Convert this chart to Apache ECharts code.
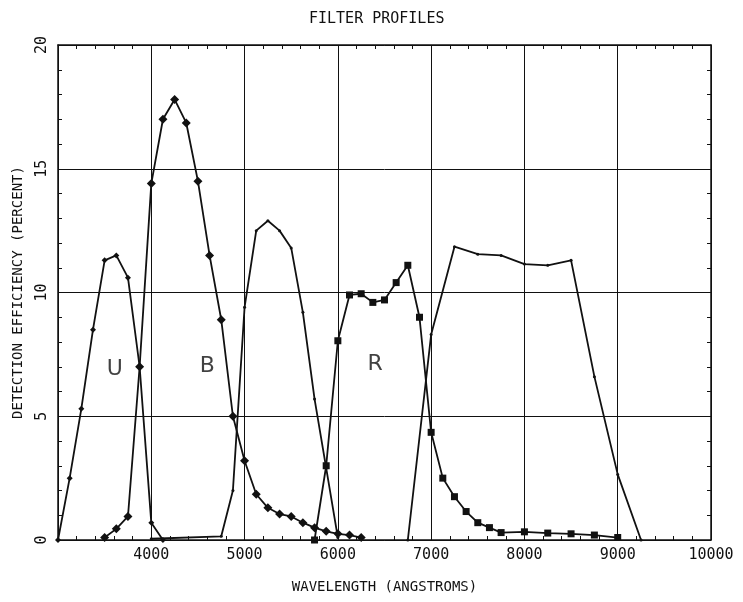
<!DOCTYPE html>
<html><head><meta charset="utf-8">
<script src="https://cdn.jsdelivr.net/npm/echarts@6/dist/echarts.min.js"></script>
<style>html,body{margin:0;padding:0;background:#fff}#c{width:743px;height:602px}</style>
</head><body><div id="c"></div>
<script>
// ---- data (wavelength in Angstroms, efficiency in percent) ----
const uWave = [3000,3125,3250,3375,3500,3625,3750,3875,4000,4125];
const uEff  = [0,2.5,5.3,8.5,11.3,11.5,10.6,7.0,0.7,0];

const bWave = [3500,3625,3750,3875,4000,4125,4250,4375,4500,4625,4750,4875,5000,5125,5250,5375,5500,5625,5750,5875,6000,6125,6250];
const bEff  = [0.1,0.45,0.95,7.0,14.4,17.0,17.8,16.85,14.5,11.5,8.9,5.0,3.2,1.85,1.3,1.05,0.95,0.7,0.5,0.35,0.25,0.2,0.1];

const vWave = [4000,4750,4875,5000,5125,5250,5375,5500,5625,5750,5875,6000];
const vEff  = [0.05,0.15,2.0,9.4,12.5,12.9,12.5,11.8,9.2,5.7,2.9,0.1];

const rWave = [5750,5875,6000,6125,6250,6375,6500,6625,6750,6875,7000,7125,7250,7375,7500,7625,7750,8000,8250,8500,8750,9000];
const rEff  = [0,3.0,8.05,9.9,9.95,9.6,9.7,10.4,11.1,9.0,4.35,2.5,1.75,1.15,0.7,0.5,0.3,0.33,0.28,0.25,0.2,0.1];

const iWave = [6750,7000,7250,7500,7750,8000,8250,8500,8750,9000,9250];
const iEff  = [0,8.3,11.85,11.55,11.5,11.15,11.1,11.3,6.6,2.65,0];

const xTickLabels = ['4000','5000','6000','7000','8000','9000','10000'];
const yTickLabels = ['0','5','10','15','20'];

const annoText = ['U','B','R'];
const annoX = [3610,4600,6400];
const annoY = [6.9,7.0,7.1];

// ---- chart ----
const INK = '#111';
const FONT = 'DejaVu Sans Mono';
const zip = (xs, ys) => xs.map((x, i) => [x, ys[i]]);

function lineSeries(name, xs, ys, symbol, size) {
  return {
    name, type: 'line', data: zip(xs, ys),
    symbol, symbolSize: size, showSymbol: true,
    lineStyle: { color: INK, width: 1.8 },
    itemStyle: { color: INK },
    z: 5
  };
}

const xCommon = {
  type: 'value', min: 3000, max: 10000, interval: 1000,
  axisLine: { show: true, onZero: false, lineStyle: { color: INK, width: 1.5 } },
  axisTick: { show: true, inside: true, length: 5, lineStyle: { color: INK } },
  minorTick: { show: true, splitNumber: 5, length: 4, lineStyle: { color: INK } }
};
const yCommon = {
  type: 'value', min: 0, max: 20, interval: 5,
  axisLine: { show: true, onZero: false, lineStyle: { color: INK, width: 1.5 } },
  axisTick: { show: true, inside: true, length: 5, lineStyle: { color: INK } },
  minorTick: { show: true, splitNumber: 5, length: 4, lineStyle: { color: INK } }
};

const chart = echarts.init(document.getElementById('c'), null, { renderer: 'canvas' });
chart.setOption({
  animation: false,
  backgroundColor: '#fff',
  title: {
    text: 'FILTER PROFILES', left: 304, top: 7,
    textStyle: { fontFamily: FONT, fontSize: 15, fontWeight: 'normal', color: INK }
  },
  grid: { left: 58, right: 32, top: 45, bottom: 62 },
  xAxis: [
    Object.assign({}, xCommon, {
      position: 'bottom',
      name: 'WAVELENGTH (ANGSTROMS)', nameLocation: 'middle', nameGap: 40,
      nameTextStyle: { fontFamily: FONT, fontSize: 14, color: INK },
      axisLabel: {
        margin: 8, fontFamily: FONT, fontSize: 15, color: INK,
        formatter: v => { const s = String(v); return xTickLabels.includes(s) ? s : ''; }
      },
      splitLine: { show: true, lineStyle: { color: INK, width: 1 } }
    }),
    Object.assign({}, xCommon, {
      position: 'top', axisLabel: { show: false }, splitLine: { show: false }
    })
  ],
  yAxis: [
    Object.assign({}, yCommon, {
      position: 'left',
      name: 'DETECTION EFFICIENCY (PERCENT)', nameLocation: 'middle', nameGap: 33, nameRotate: 90,
      nameTextStyle: { fontFamily: FONT, fontSize: 14, color: INK },
      axisLabel: {
        rotate: 90, margin: 8, fontFamily: FONT, fontSize: 15, color: INK,
        formatter: v => { const s = String(v); return yTickLabels.includes(s) ? s : ''; }
      },
      splitLine: { show: true, lineStyle: { color: INK, width: 1 } }
    }),
    Object.assign({}, yCommon, {
      position: 'right', axisLabel: { show: false }, splitLine: { show: false }
    })
  ],
  series: [
    lineSeries('U', uWave, uEff, 'diamond', 6),
    lineSeries('B', bWave, bEff, 'diamond', 9),
    lineSeries('V', vWave, vEff, 'circle', 3),
    lineSeries('R', rWave, rEff, 'rect', 7),
    lineSeries('I', iWave, iEff, 'circle', 3),
    {
      name: 'labels', type: 'scatter', symbolSize: 0,
      data: annoX.map((x, i) => [x, annoY[i], annoText[i]]),
      label: {
        show: true, position: 'inside', formatter: p => p.data[2],
        fontFamily: 'DejaVu Sans', fontSize: 22, color: INK
      },
      z: 6
    }
  ]
});
</script>
</body></html>
